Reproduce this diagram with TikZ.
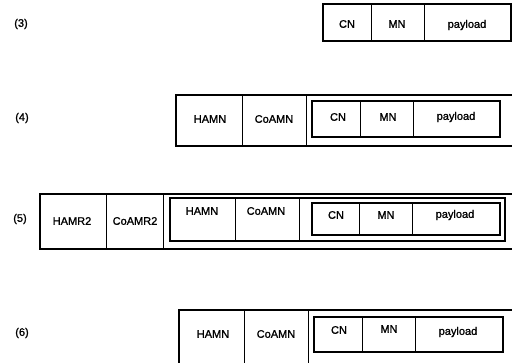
\documentclass[tikz,border=0pt]{standalone}
\usepackage{fontspec}
\setmainfont{Liberation Sans}
\newfontfamily\diagfont[FakeBold=1.2]{Liberation Sans}
\tikzset{
  thickbox/.style={draw=black, line width=1.3pt},
  outerbox/.style={draw=black, line width=1.1pt},
  divider/.style={draw=black, line width=0.5pt},
  lbl/.style={inner sep=0pt, font=\diagfont\fontsize{11}{13}\selectfont, text=black},
  rowlbl/.style={inner sep=0pt, font=\diagfont\fontsize{11}{13}\selectfont, text=black}
}
\begin{document}
\begin{tikzpicture}[x=1pt,y=-1pt]
\useasboundingbox (0,0) rectangle (512,362);
% ---------- row (3)
\node[rowlbl] (l3) at (21,24) {(3)};
\draw[outerbox] (323,4) rectangle (511,41);
\draw[divider] (371,4) -- (371,41);
\draw[divider] (424,4) -- (424,41);
\node[lbl] (cn3) at (347,24) {CN};
\node[lbl] (mn3) at (397,24) {MN};
\node[lbl] (pl3) at (467,25) {payload};
% ---------- row (4)
\node[rowlbl] (l4) at (22,118) {(4)};
\draw[outerbox] (176,95) rectangle (514,146);
\draw[divider] (242,95) -- (242,146);
\draw[divider] (306,95) -- (306,146);
\node[lbl] (ha4) at (210,119) {HAMN};
\node[lbl] (co4) at (274,119) {CoAMN};
\draw[thickbox] (312,101) rectangle (500,137);
\draw[divider] (360,101) -- (360,137);
\draw[divider] (413,101) -- (413,137);
\node[lbl] (cn4) at (338,117) {CN};
\node[lbl] (mn4) at (388,117) {MN};
\node[lbl] (pl4) at (456,117) {payload};
% ---------- row (5)
\node[rowlbl] (l5) at (20,219) {(5)};
\draw[outerbox] (40,194) rectangle (514,249);
\draw[divider] (106,194) -- (106,249);
\draw[divider] (163,194) -- (163,249);
\node[lbl] (hr5) at (72,221) {HAMR2};
\node[lbl] (cr5) at (135,221) {CoAMR2};
\draw[thickbox] (170,198) rectangle (505,241);
\draw[divider] (235,198) -- (235,241);
\draw[divider] (299,198) -- (299,241);
\node[lbl] (ha5) at (202,211) {HAMN};
\node[lbl] (co5) at (266,211) {CoAMN};
\draw[thickbox] (312,203) rectangle (500,235);
\draw[divider] (359,203) -- (359,235);
\draw[divider] (412,203) -- (412,235);
\node[lbl] (cn5) at (336,215) {CN};
\node[lbl] (mn5) at (386,215) {MN};
\node[lbl] (pl5) at (455,215) {payload};
% ---------- row (6)
\node[rowlbl] (l6) at (22,333) {(6)};
\draw[outerbox] (179,310) rectangle (514,366);
\draw[divider] (244,310) -- (244,366);
\draw[divider] (308,310) -- (308,366);
\node[lbl] (ha6) at (213,334) {HAMN};
\node[lbl] (co6) at (276,334) {CoAMN};
\draw[thickbox] (314,317) rectangle (503,352);
\draw[divider] (362,317) -- (362,352);
\draw[divider] (415,317) -- (415,352);
\node[lbl] (cn6) at (339,330) {CN};
\node[lbl] (mn6) at (389,329) {MN};
\node[lbl] (pl6) at (458,332) {payload};
\end{tikzpicture}
\end{document}
